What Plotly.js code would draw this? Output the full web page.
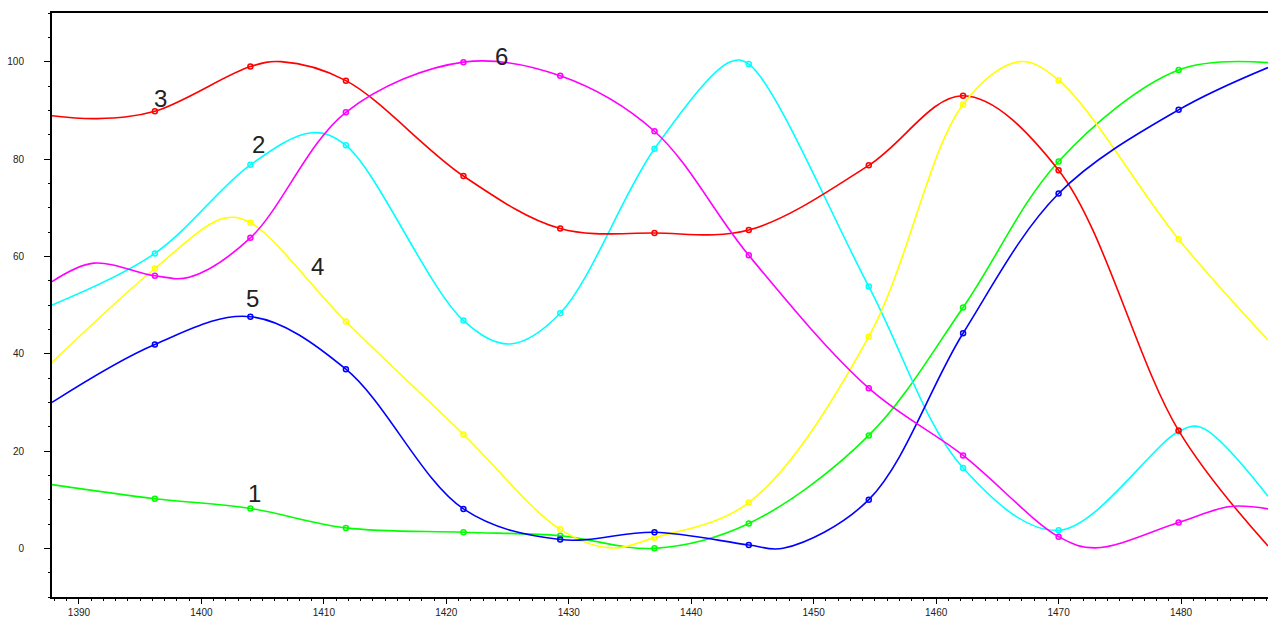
<!DOCTYPE html>
<html><head><meta charset="utf-8">
<script src="https://cdn.plot.ly/plotly-3.0.1.min.js"></script>
<style>html,body{margin:0;padding:0;background:#fff}#chart{width:1268px;height:617px}</style>
</head><body><div id="chart"></div>
<script>
// x positions of the marked points (shared by all series)
const markerX = [1396.2, 1404.0, 1411.8, 1421.4, 1429.3, 1437.0, 1444.7, 1454.5, 1462.2, 1470.0, 1479.8];
// curve ends at the left and right edges of the plot
const edgeX = [1387.8, 1487.1];

const seriesNames = ['1', '2', '3', '4', '5', '6'];
const seriesColors = ['#00ff00', '#00ffff', '#ff0000', '#ffff00', '#0000ff', '#ff00ff'];

// values at the marked points, and at the two plot edges
const series1 = [10.2, 8.2, 4.2, 3.3, 2.6, 0.0, 5.1, 23.2, 49.5, 79.5, 98.3];
const edge1 = [13.1, 99.8];
const series2 = [60.6, 78.8, 82.8, 46.8, 48.3, 82.1, 99.5, 53.8, 16.5, 3.7, 24.0];
const edge2 = [50.0, 10.7];
const series3 = [89.8, 99.0, 96.1, 76.5, 65.7, 64.8, 65.4, 78.7, 93.0, 77.7, 24.2];
const edge3 = [88.9, 0.5];
const series4 = [57.5, 66.9, 46.6, 23.4, 3.9, 2.2, 9.4, 43.5, 91.2, 96.2, 63.5];
const edge4 = [38.2, 42.8];
const series5 = [41.9, 47.6, 36.8, 8.1, 1.8, 3.3, 0.7, 10.0, 44.2, 72.9, 90.1];
const edge5 = [30.0, 98.8];
const series6 = [56.0, 63.8, 89.6, 99.9, 97.1, 85.7, 60.2, 32.9, 19.1, 2.4, 5.3];
const edge6 = [54.8, 8.1];

// unmarked turning points of each curve
const turnX1 = [];
const turnY1 = [];
const turnX2 = [1409.0, 1425.2, 1443.2, 1481.6];
const turnY2 = [85.4, 42.0, 100.0, 24.9];
const turnX3 = [1391.5, 1406.5];
const turnY3 = [88.3, 100.0];
const turnX4 = [1401.8, 1433.4, 1466.8];
const turnY4 = [67.8, 0.1, 100.0];
const turnX5 = [1447.5];
const turnY5 = [0.0];
const turnX6 = [1391.2, 1399.0, 1473.0, 1484.0];
const turnY6 = [58.6, 55.7, 0.1, 8.6];

// curve labels
const labelText = ['1', '2', '3', '4', '5', '6'];
const labelX = [1404.3, 1404.7, 1396.7, 1409.5, 1404.2, 1424.5];
const labelY = [11.3, 83.0, 92.4, 58.0, 51.4, 101.0];

// y tick labels
const yTickVals = [0, 20, 40, 60, 80, 100];
const yTickText = ['0', '20', '40', '60', '80', '100'];

const allSeries = [series1, series2, series3, series4, series5, series6];
const allEdges = [edge1, edge2, edge3, edge4, edge5, edge6];
const allTurnX = [turnX1, turnX2, turnX3, turnX4, turnX5, turnX6];
const allTurnY = [turnY1, turnY2, turnY3, turnY4, turnY5, turnY6];

const traces = [];
allSeries.forEach((vals, i) => {
  const pts = [];
  pts.push([edgeX[0], allEdges[i][0]]);
  markerX.forEach((x, k) => pts.push([x, vals[k]]));
  allTurnX[i].forEach((x, k) => pts.push([x, allTurnY[i][k]]));
  pts.push([edgeX[1], allEdges[i][1]]);
  pts.sort((a, b) => a[0] - b[0]);
  traces.push({
    x: pts.map(p => p[0]), y: pts.map(p => p[1]), type: 'scatter', mode: 'lines', name: seriesNames[i],
    line: {color: seriesColors[i], width: 1.6, shape: 'spline', smoothing: 1},
    hoverinfo: 'skip', cliponaxis: true
  });
  traces.push({
    x: markerX, y: vals, type: 'scatter', mode: 'markers', name: seriesNames[i],
    marker: {symbol: 'circle-open', size: 5, color: seriesColors[i], line: {width: 1.5, color: seriesColors[i]}},
    hoverinfo: 'skip', cliponaxis: true
  });
});

const annotations = labelText.map((t, i) => ({
  x: labelX[i], y: labelY[i], xref: 'x', yref: 'y', text: t, showarrow: false,
  font: {family: 'Liberation Sans, Arial, sans-serif', size: 24, color: '#222'},
  xanchor: 'center', yanchor: 'middle'
}));

const tickFont = {family: 'Liberation Sans, Arial, sans-serif', size: 10, color: '#222'};

const layout = {
  width: 1268, height: 617,
  margin: {l: 52, r: 0, t: 13, b: 20, pad: 0},
  paper_bgcolor: '#ffffff', plot_bgcolor: '#ffffff',
  showlegend: false,
  xaxis: {
    range: [1387.8, 1487.1], tick0: 1390, dtick: 10,
    showline: true, linecolor: '#000', linewidth: 2, mirror: true,
    ticks: 'outside', ticklen: 5, tickwidth: 1, tickcolor: '#000',
    showgrid: false, zeroline: false, tickfont: tickFont,
    minor: {dtick: 1, tick0: 1390, ticks: 'outside', ticklen: 2, tickwidth: 1, tickcolor: '#000', showgrid: false}
  },
  yaxis: {
    range: [-10, 110], tickvals: yTickVals, ticktext: yTickText,
    showline: true, linecolor: '#000', linewidth: 2, mirror: false,
    ticks: 'outside', ticklen: 6, tickwidth: 1, tickcolor: '#000',
    showgrid: false, zeroline: false, tickfont: tickFont, ticklabelstandoff: 18,
    minor: {dtick: 5, tick0: 0, ticks: 'outside', ticklen: 2, tickwidth: 1, tickcolor: '#000', showgrid: false}
  },
  annotations: annotations
};

Plotly.newPlot('chart', traces, layout, {staticPlot: true, displayModeBar: false});
</script>
</body></html>
